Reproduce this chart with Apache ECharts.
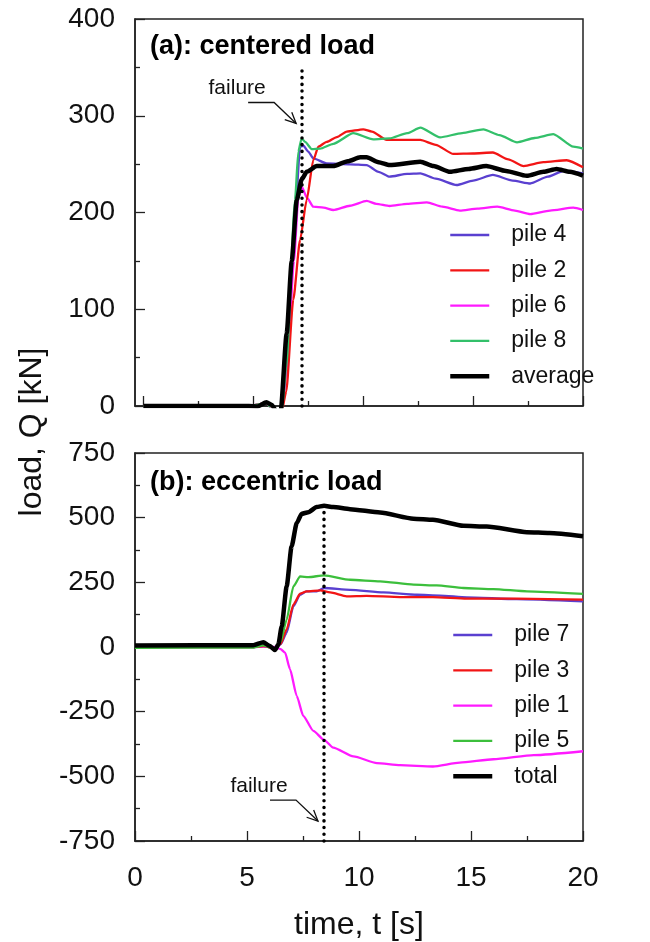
<!DOCTYPE html>
<html><head><meta charset="utf-8">
<script src="https://cdn.jsdelivr.net/npm/echarts@6/dist/echarts.min.js"></script>
<style>html,body{margin:0;padding:0;background:#fff}#c{width:650px;height:942px}</style>
</head><body><div id="c"></div>
<script>
// ---------- data: panel (a) centered load ----------
const tA_p4 = [0,4.8,5.6,6.1,6.3,6.55,6.9,7.13,7.28,7.5,7.73,8.34,9.4,10.16,10.7,11.2,12.0,12.6,13.3,14.25,15.0,15.9,16.8,17.6,18.4,19.1,20];
const vA_p4 = [0,0,3,-12,-5,50,195.7,268,269,263,256,250.8,249.8,249,242,237,240,240.5,235,228.4,233,238.8,233,230,237,242.9,240.5];
const tA_p2 = [0,4.8,5.6,6.1,6.29,6.5,6.82,7.13,7.43,7.73,7.96,8.34,8.8,9.25,10,10.4,11.07,12,12.6,13.3,14.1,15,15.9,16.6,17.3,18.2,19.26,20];
const vA_p2 = [0,0,3,-10,-6,15,110,171.6,213,254,268,273,278,283.6,286,283.6,275,275,275,270,260.5,261,262,255,248,252,254,246.7];
const tA_p6 = [0,4.8,5.6,6.1,6.3,6.55,6.85,7.05,7.2,7.45,7.73,8.2,8.64,9.4,10.16,10.6,11.2,12.0,12.9,13.6,14.4,15.2,16.1,16.9,17.6,18.5,19.56,20];
const vA_p6 = [0,0,3,-12,-5,45,150,215,226.7,215,206,205,202.6,207,212,209,206.7,209,210.5,206,202,204,206,202,198.4,202,205,202.6];
const tA_p8 = [0,4.8,5.6,6.1,6.3,6.5,6.9,7.05,7.2,7.36,7.66,8.04,8.64,9.55,10.46,11.2,12.0,12.6,13.5,14.5,15.47,16.2,17,17.8,18.65,19.56,20];
const vA_p8 = [0,0,3,-12,-5,40,213,263,276.6,273,265.6,266,271,282,275.6,276.6,282,287.7,277.7,282,286,280,272.5,277,281,268,266];
const tA_avg = [0,4.8,5.2,5.6,5.85,6.1,6.25,6.52,6.75,6.98,7.2,7.43,7.89,8.64,9.3,9.86,10.16,10.7,11.2,12.6,13.2,13.95,14.8,15.6,16.5,17.44,18.2,18.8,19.4,20];
const vA_avg = [0,0,-0.5,3.8,1,-8,-5,75,150,213,234,242,248,248,253,257,257,252,249,252.5,248,242,245,248,243,238,242,245,242,238];

// ---------- data: panel (b) eccentric load ----------
const tB_p7 = [0,5.3,5.73,6.25,6.5,6.77,7.07,7.37,7.66,8.11,8.44,9.6,11.09,12.58,13.62,14.81,17.05,20];
const vB_p7 = [0,0,3,-5,10,55,157,202,215,215,228,221,211,202,199,192,185,176];
const tB_p3 = [0,5.3,5.73,6.25,6.5,6.77,7.07,7.37,7.66,8.26,8.71,9.45,10.34,11.83,13.3,14.81,17.05,20];
const vB_p3 = [0,0,3,-5,12,68,164,206,215,219,211,196,198,193,193,187,187,183];
const tB_p1 = [0,5.3,5.73,6.2,6.5,6.7,6.92,7.22,7.51,7.96,8.44,8.85,9.75,10.8,11.83,13.3,14.5,16,17.8,20];
const vB_p1 = [0,0,2,0,-8,-22,-86,-189,-266,-324,-359,-389,-423,-449,-457,-462,-447,-434,-418,-403];
const tB_p5 = [0,5.3,5.73,6.25,6.5,6.77,7.07,7.37,7.74,8.44,9.6,10.94,12.43,13.47,14.66,16,17.5,20];
const vB_p5 = [-3,-2,6,-7,20,106,234,273,270,277,260,254,241,238,228,224,215,205];
const tB_tot = [0,5.28,5.73,6.0,6.25,6.4,6.55,6.77,6.99,7.22,7.44,7.74,8.11,8.44,8.85,9.6,10.94,12.43,13.3,14.66,15.7,17.5,18.5,20];
const vB_tot = [6,7,18.6,5,-12,10,80,234,389,479,515,521,541,546,541,533,520,496,492,468.5,466,444,440.5,428];

// ---------- annotations ----------
const failA = 7.2, failTopA = 349;      // failure time & top of dotted line (a)
const failB = 8.42, failTopB = 546;     // failure time & top of dotted line (b)
const arrowTipA = [6.95, 292];
const arrowTipB = [8.17, -673];
const namesA = ['pile 4','pile 2','pile 6','pile 8','average'];
const namesB = ['pile 7','pile 3','pile 1','pile 5','total'];
const colBlue = '#5a40d0', colRed = '#f21515', colMag = '#ff1aff', colGreenA = '#33c06a', colGreenB = '#3cbf3c';

const zip = (t, v) => t.map((x, i) => [x, v[i]]);
const FONT = 'Liberation Sans, Arial, sans-serif';

const chart = echarts.init(document.getElementById('c'), null, {renderer: 'canvas'});

function ln(name, t, v, color, w, xi, yi, z, extra) {
  return Object.assign({
    type: 'line', name, data: zip(t, v), xAxisIndex: xi, yAxisIndex: yi,
    symbol: 'none', showSymbol: false, smooth: 0.2, smoothMonotone: 'x',
    lineStyle: {color, width: w}, itemStyle: {color}, z, animation: false
  }, extra || {});
}
const dotLine = {color: '#000', width: 3.5, type: [0.1, 6.6], cap: 'round'};
const tickStyle = {color: '#222', width: 1.3};

const option = {
  animation: false,
  backgroundColor: '#fff',
  grid: [
    {left: 135, top: 19, width: 448, height: 387, show: true, borderColor: '#222', borderWidth: 1.5},
    {left: 143.4, top: 19, width: 439.6, height: 387, show: false},
    {left: 135, top: 453, width: 448, height: 389, show: true, borderColor: '#222', borderWidth: 1.5}
  ],
  xAxis: [
    {type: 'value', gridIndex: 0, min: -0.38, max: 20, axisLine: {onZero: false, lineStyle: {color: '#222', width: 1.5}},
     axisTick: {show: false}, axisLabel: {show: false}, splitLine: {show: false}},
    {type: 'value', gridIndex: 1, min: 0, max: 20, interval: 5, axisLine: {show: false, onZero: false},
     axisTick: {show: true, inside: true, length: 10, lineStyle: tickStyle},
     minorTick: {show: true, splitNumber: 2, length: 5, lineStyle: tickStyle},
     axisLabel: {show: false}, splitLine: {show: false}},
    {type: 'value', gridIndex: 2, min: 0, max: 20, interval: 5,
     axisLine: {onZero: false, lineStyle: {color: '#222', width: 1.5}},
     axisTick: {inside: true, length: 10, lineStyle: tickStyle},
     minorTick: {show: true, splitNumber: 2, length: 5, lineStyle: tickStyle},
     axisLabel: {fontSize: 28, color: '#111', fontFamily: FONT, margin: 23},
     splitLine: {show: false},
     name: 'time, t [s]', nameLocation: 'middle', nameGap: 68,
     nameTextStyle: {fontSize: 32, color: '#111', fontFamily: FONT}}
  ],
  yAxis: [
    {type: 'value', gridIndex: 0, min: 0, max: 400, interval: 100,
     axisLine: {show: true, onZero: false, lineStyle: {color: '#222', width: 1.5}},
     axisTick: {inside: true, length: 10, lineStyle: tickStyle},
     minorTick: {show: true, splitNumber: 2, length: 5, lineStyle: tickStyle},
     axisLabel: {fontSize: 28, color: '#111', fontFamily: FONT, margin: 20},
     splitLine: {show: false}},
    {type: 'value', gridIndex: 1, min: 0, max: 1, show: false},
    {type: 'value', gridIndex: 2, min: -750, max: 750, interval: 250,
     axisLine: {show: true, onZero: false, lineStyle: {color: '#222', width: 1.5}},
     axisTick: {inside: true, length: 10, lineStyle: tickStyle},
     minorTick: {show: true, splitNumber: 2, length: 5, lineStyle: tickStyle},
     axisLabel: {fontSize: 28, color: '#111', fontFamily: FONT, margin: 20},
     splitLine: {show: false}}
  ],
  legend: [
    {data: namesA, orient: 'vertical', left: 448, top: 223, padding: 0, itemWidth: 39, itemHeight: 24, itemGap: 11.3,
     selectedMode: false, textStyle: {fontSize: 23, color: '#111', fontFamily: FONT, padding: [0, 0, 0, 17], lineHeight: 24},
     lineStyle: {width: 'inherit'}, itemStyle: {opacity: 0}},
    {data: namesB, orient: 'vertical', left: 451, top: 623, padding: 0, itemWidth: 39, itemHeight: 24, itemGap: 11.3,
     selectedMode: false, textStyle: {fontSize: 23, color: '#111', fontFamily: FONT, padding: [0, 0, 0, 17], lineHeight: 24},
     lineStyle: {width: 'inherit'}, itemStyle: {opacity: 0}}
  ],
  series: [
    ln(namesA[0], tA_p4, vA_p4, colBlue, 2.3, 0, 0, 2),
    ln(namesA[1], tA_p2, vA_p2, colRed, 2.3, 0, 0, 3),
    ln(namesA[2], tA_p6, vA_p6, colMag, 2.3, 0, 0, 2),
    ln(namesA[3], tA_p8, vA_p8, colGreenA, 2.3, 0, 0, 3),
    ln(namesA[4], tA_avg, vA_avg, '#000', 4.5, 0, 0, 4, {
      markLine: {silent: true, symbol: ['none', 'none'], label: {show: false}, lineStyle: dotLine,
                 data: [[{coord: [failA, 0]}, {coord: [failA, failTopA]}]]}
    }),
    ln(namesB[0], tB_p7, vB_p7, colBlue, 2.3, 2, 2, 2),
    ln(namesB[1], tB_p3, vB_p3, colRed, 2.3, 2, 2, 3),
    ln(namesB[2], tB_p1, vB_p1, colMag, 2.3, 2, 2, 2),
    ln(namesB[3], tB_p5, vB_p5, colGreenB, 2.3, 2, 2, 3),
    ln(namesB[4], tB_tot, vB_tot, '#000', 4.5, 2, 2, 4, {
      markLine: {silent: true, symbol: ['none', 'none'], label: {show: false}, lineStyle: dotLine,
                 data: [[{coord: [failB, -750]}, {coord: [failB, failTopB]}]]}
    })
  ]
};
chart.setOption(option);

function arrowGraphics(tip) {
  const [x, y] = tip;
  const p1 = [x - 48, y - 21], p2 = [x - 22, y - 21];
  const dx = x - p2[0], dy = y - p2[1], L = Math.hypot(dx, dy);
  const ux = dx / L, uy = dy / L, a = 25 * Math.PI / 180, len = 12;
  const w1 = [x - len * (ux * Math.cos(a) - uy * Math.sin(a)), y - len * (uy * Math.cos(a) + ux * Math.sin(a))];
  const w2 = [x - len * (ux * Math.cos(a) + uy * Math.sin(a)), y - len * (uy * Math.cos(a) - ux * Math.sin(a))];
  return [
    {type: 'text', x: x - 59, y: y - 35, style: {text: 'failure', fontSize: 21, fontFamily: FONT, fill: '#111', align: 'center', verticalAlign: 'middle'}, z: 100},
    {type: 'polyline', shape: {points: [p1, p2, [x, y]]}, style: {stroke: '#111', lineWidth: 1.3, fill: null}, z: 100},
    {type: 'polyline', shape: {points: [w1, [x, y], w2]}, style: {stroke: '#111', lineWidth: 1.3, fill: null}, z: 100}
  ];
}
const tipA = chart.convertToPixel({gridIndex: 0}, arrowTipA);
const tipB = chart.convertToPixel({gridIndex: 2}, arrowTipB);
chart.setOption({
  graphic: [
    {type: 'text', x: 150, y: 47, style: {text: '(a): centered load', fontSize: 27, fontWeight: 'bold', fontFamily: FONT, fill: '#000', verticalAlign: 'middle'}, z: 100},
    {type: 'text', x: 150, y: 483, style: {text: '(b): eccentric load', fontSize: 27, fontWeight: 'bold', fontFamily: FONT, fill: '#000', verticalAlign: 'middle'}, z: 100},
    {type: 'text', x: 32, y: 432, rotation: Math.PI / 2, style: {text: 'load, Q [kN]', fontSize: 32, fontFamily: FONT, fill: '#111', align: 'center', verticalAlign: 'middle'}, z: 100}
  ].concat(arrowGraphics(tipA), arrowGraphics(tipB))
});
</script></body></html>
